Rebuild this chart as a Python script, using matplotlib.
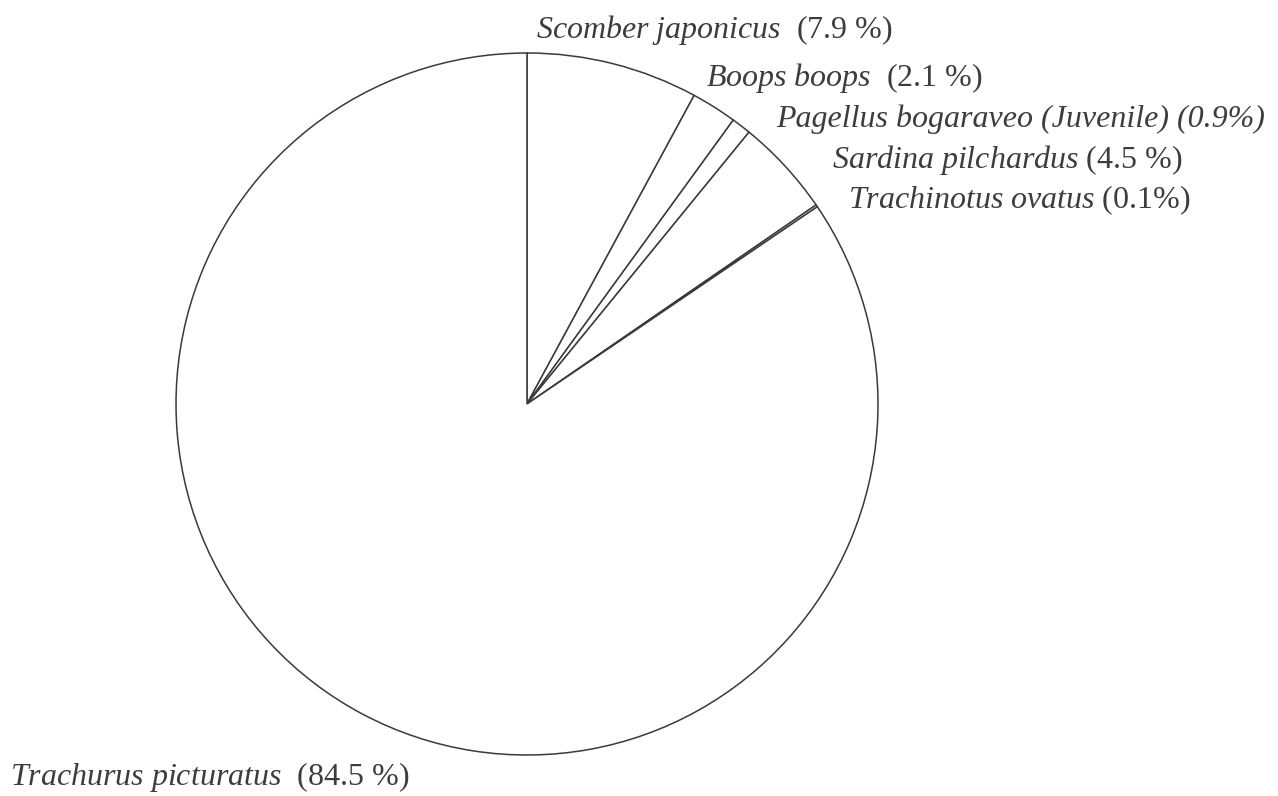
import matplotlib
matplotlib.use("Agg")
import matplotlib.pyplot as plt

# Catch composition (% of total), clockwise from 12 o'clock
species = [
    "Scomber japonicus",
    "Boops boops",
    "Pagellus bogaraveo (Juvenile)",
    "Sardina pilchardus",
    "Trachinotus ovatus",
    "Trachurus picturatus",
]
shares = [7.9, 2.1, 0.9, 4.5, 0.1, 84.5]
share_labels = ["(7.9 %)", "(2.1 %)", "(0.9%)", "(4.5 %)", "(0.1%)", "(84.5 %)"]

plt.rcParams["mathtext.fontset"] = "custom"
plt.rcParams["mathtext.it"] = "Liberation Serif:italic"
plt.rcParams["mathtext.rm"] = "Liberation Serif"

fig = plt.figure(figsize=(12.78, 7.96), dpi=100)
ax = fig.add_axes([0, 0, 1, 1])

ax.pie(shares, startangle=90, counterclock=False, center=(527, 392), radius=351,
       colors=["white"] * len(shares),
       wedgeprops=dict(edgecolor="#3a3a3a", linewidth=1.1))
ax.set_xlim(0, 1278)
ax.set_ylim(0, 796)
ax.set_aspect("equal")
ax.axis("off")

# label anchor points (left edge, vertical centre), pixels
label_pos = [(536, 766), (706, 718), (776, 677), (832, 636), (848, 596), (10, 19)]
gaps = ["  ", "  ", " ", " ", " ", "  "]
all_italic = [False, False, True, False, False, False]

for name, pct, (x, y), gap, it in zip(species, share_labels, label_pos, gaps, all_italic):
    if it:
        ax.text(x, y, name + gap + pct, fontsize=23, family="Liberation Serif",
                style="italic", color="#3d3d3d", ha="left", va="center")
    else:
        txt = r"$\mathit{" + name.replace(" ", r"\ ") + "}$" + gap + pct
        ax.text(x, y, txt, fontsize=23, family="Liberation Serif", color="#3d3d3d",
                ha="left", va="center")

fig.savefig("out.png", dpi=100, facecolor="white")
